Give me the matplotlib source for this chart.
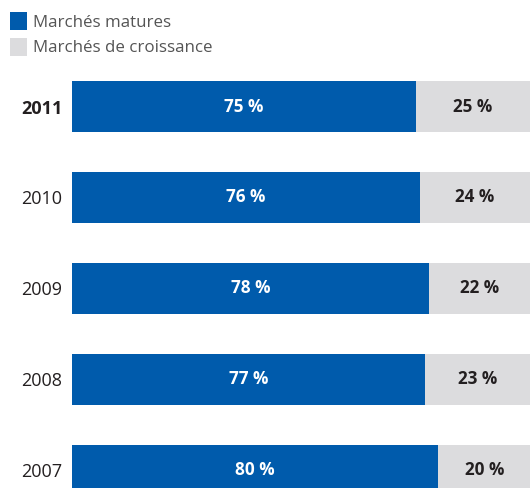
import matplotlib.pyplot as plt

plt.rcParams['font.family'] = ['Open Sans', 'DejaVu Sans']

annees = ['2011', '2010', '2009', '2008', '2007']
matures = [75, 76, 78, 77, 80]
croissance = [25, 24, 22, 23, 20]

bleu = '#005BAC'
gris = '#DCDCDE'

fig = plt.figure(figsize=(5.30, 4.88), dpi=100)
ax = fig.add_axes([72 / 530, 0, 1 - 72 / 530, 416 / 488])

pos = list(range(len(annees)))
b1 = ax.barh(pos, matures, height=0.56, color=bleu, label='Marchés matures')
b2 = ax.barh(pos, croissance, left=matures, height=0.56, color=gris,
             label='Marchés de croissance')

for i in pos:
    ax.text(matures[i] / 2, i, f'{matures[i]} %', ha='center', va='center',
            color='white', fontsize=12.3, fontweight='bold')
    ax.text(matures[i] + croissance[i] / 2, i, f'{croissance[i]} %', ha='center',
            va='center', color='#231F20', fontsize=12.3, fontweight='bold')

ax.set_xlim(0, 100)
ax.set_ylim(4.198, -0.38)
ax.set_yticks(pos)
ax.set_yticklabels(annees, fontsize=13, color='#231F20')
ax.get_yticklabels()[0].set_fontweight('bold')
ax.tick_params(axis='y', length=0, pad=7)
ax.set_xticks([])
for s in ax.spines.values():
    s.set_visible(False)

fig.legend(handles=[b1, b2], loc='upper left', bbox_to_anchor=(-0.009, 1.006),
           frameon=False, fontsize=12.2, handlelength=1.0, handleheight=1.25,
           handletextpad=0.3, labelspacing=0.4, borderpad=0.4,
           labelcolor='#555555')

fig.savefig('out.png', dpi=100)
